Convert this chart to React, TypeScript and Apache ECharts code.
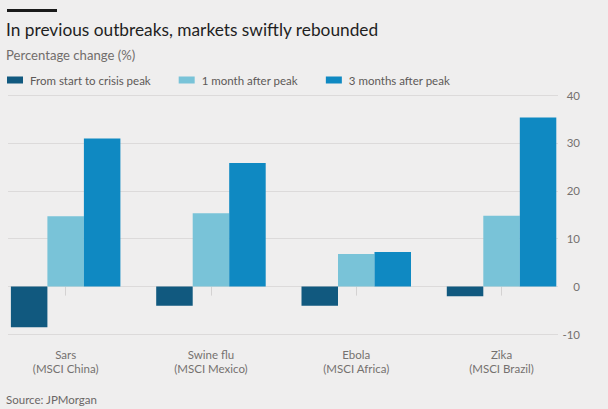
import React, { useEffect, useRef } from "react";
import * as echarts from "echarts";

const categories = ["Sars\n(MSCI China)", "Swine flu\n(MSCI Mexico)", "Ebola\n(MSCI Africa)", "Zika\n(MSCI Brazil)"];
const seriesNames = ["From start to crisis peak", "1 month after peak", "3 months after peak"];
const startToPeak = [-8.5, -4.0, -4.0, -2.0];
const oneMonthAfter = [14.7, 15.3, 6.8, 14.8];
const threeMonthsAfter = [30.9, 25.8, 7.2, 35.3];
const yTicks = { min: -10, max: 40, interval: 10 };
const colors = ["#11597f", "#79c3d8", "#0f89c2"];

const FONT = "Lato, 'Open Sans', sans-serif";
const BG = "#efeeee";
// the chart canvas starts 7px left of the page so that the bar grid can begin at x = -7
const OFF = 7;

export default function App() {
  const ref = useRef<HTMLDivElement>(null);
  useEffect(() => {
    if (!ref.current) return;
    const chart = echarts.init(ref.current, undefined, { renderer: "svg" });
    const values = [startToPeak, oneMonthAfter, threeMonthsAfter];
    chart.setOption({
      animation: false,
      backgroundColor: BG,
      textStyle: { fontFamily: FONT },
      title: [
        {
          text: "In previous outbreaks, markets swiftly rebounded",
          left: 6 + OFF,
          top: 18,
          padding: 0,
          textStyle: { fontFamily: FONT, fontSize: 17.3, fontWeight: "normal", color: "#1f1f1f", lineHeight: 22 },
        },
        {
          text: "Percentage change (%)",
          left: 6 + OFF,
          top: 47,
          padding: 0,
          textStyle: { fontFamily: FONT, fontSize: 13.1, fontWeight: "normal", color: "#716d6b", lineHeight: 16 },
        },
        {
          text: "Source: JPMorgan",
          left: 6 + OFF,
          top: 392,
          padding: 0,
          textStyle: { fontFamily: FONT, fontSize: 11.5, fontWeight: "normal", color: "#6b6766", lineHeight: 14 },
        },
      ],
      graphic: {
        elements: [
          { type: "rect", left: 7 + OFF, top: 9, z: 100, shape: { width: 50, height: 3 }, style: { fill: "#1a1a1a" } },
        ],
      },
      legend: {
        left: 7 + OFF,
        top: 74,
        padding: 0,
        itemWidth: 16,
        itemHeight: 7,
        itemGap: 28,
        icon: "rect",
        textStyle: { fontFamily: FONT, fontSize: 11.5, color: "#5d5957", padding: [0, 0, 0, 2] },
        data: seriesNames,
      },
      grid: [
        { left: 0, right: 33.8, top: 95, bottom: 74.5, containLabel: false },
        { left: 8 + OFF, right: 50, top: 95, bottom: 74.5, containLabel: false },
      ],
      xAxis: [
        {
          type: "category",
          gridIndex: 0,
          data: categories,
          axisLine: { show: false },
          axisTick: { show: true, alignWithLabel: true, length: 9, lineStyle: { color: "#d4d2d2" } },
          axisLabel: { margin: 13, fontFamily: FONT, fontSize: 11.5, color: "#75716f", lineHeight: 14 },
        },
        {
          type: "category",
          gridIndex: 1,
          data: categories,
          show: false,
        },
      ],
      yAxis: [
        {
          type: "value",
          gridIndex: 0,
          min: yTicks.min,
          max: yTicks.max,
          interval: yTicks.interval,
          show: false,
        },
        {
          type: "value",
          gridIndex: 1,
          position: "right",
          min: yTicks.min,
          max: yTicks.max,
          interval: yTicks.interval,
          axisLine: { show: false },
          axisTick: { show: false },
          splitLine: { show: true, lineStyle: { color: "#dcdada", width: 1 } },
          axisLabel: { align: "right", margin: 22, fontFamily: FONT, fontSize: 11.5, color: "#75716f" },
        },
      ],
      series: seriesNames.map((name, i) => ({
        name,
        type: "bar",
        xAxisIndex: 0,
        yAxisIndex: 0,
        data: values[i],
        barWidth: 36.5,
        barGap: "0%",
        itemStyle: { color: colors[i] },
      })),
    });
    return () => chart.dispose();
  }, []);
  return (
    <div style={{ position: "fixed", left: 0, top: 0, width: 608, height: 409, overflow: "hidden" }}>
      <div
        ref={ref}
        style={{ position: "absolute", left: -OFF, top: 0, width: 608 + OFF, height: 409, background: BG }}
      />
    </div>
  );
}
